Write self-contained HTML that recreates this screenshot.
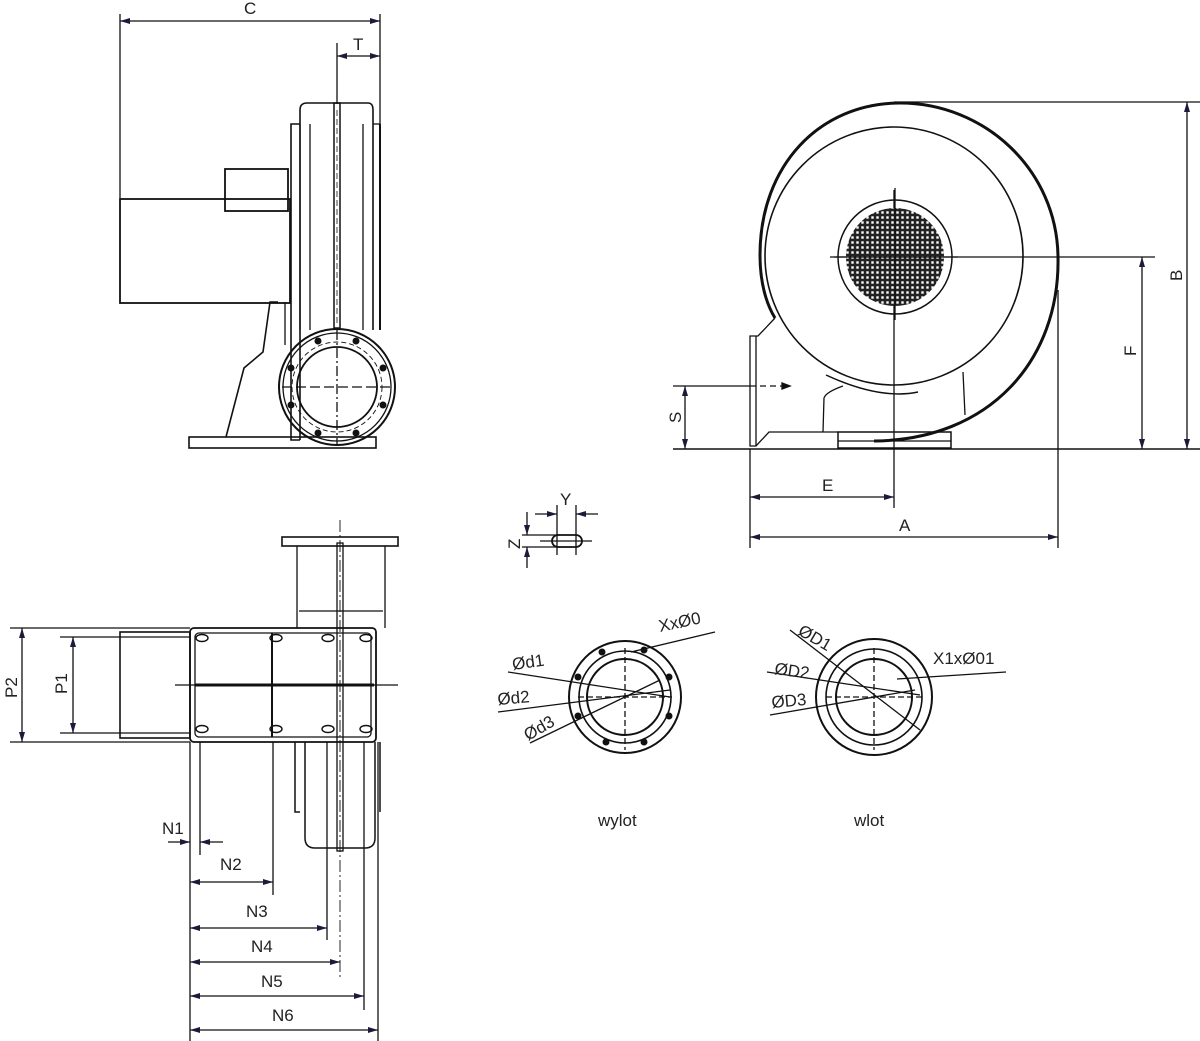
<!DOCTYPE html>
<html><head><meta charset="utf-8"><style>
html,body{margin:0;padding:0;background:#fff;}
svg{display:block}
text{font-family:"Liberation Sans",sans-serif;font-size:17px;fill:#222;}
</style></head><body>
<svg width="1200" height="1041" viewBox="0 0 1200 1041" xmlns="http://www.w3.org/2000/svg">
<defs>
<marker id="a" viewBox="0 0 10 6" refX="10" refY="3" markerWidth="10" markerHeight="6" orient="auto-start-reverse" markerUnits="userSpaceOnUse"><path d="M0,0 L10,3 L0,6 z" fill="#1a1a3a"/></marker>
<pattern id="g" width="5" height="5" patternUnits="userSpaceOnUse"><rect width="5" height="5" fill="#222"/><rect x="1.3" y="1.3" width="2.4" height="2.4" fill="#fff"/></pattern>
</defs>
<g fill="none" stroke="#111" stroke-width="1.3">
<!-- ===== TOP LEFT VIEW ===== -->
<line x1="120" y1="14" x2="120" y2="198"/>
<line x1="380" y1="14" x2="380" y2="124"/>
<line x1="120" y1="21" x2="380" y2="21" marker-start="url(#a)" marker-end="url(#a)"/>
<line x1="337" y1="43" x2="337" y2="104"/>
<line x1="337" y1="56" x2="380" y2="56" marker-start="url(#a)" marker-end="url(#a)"/>
<rect x="120" y="199" width="170" height="104" stroke-width="1.8"/>
<rect x="225" y="169" width="63" height="42" stroke-width="1.8"/>
<path d="M300,124 H291 V440 H300" stroke-width="1.6"/>
<path d="M300,440 V110 Q300,103 307,103 H368 Q373,103 373,110 V330" stroke-width="1.6"/>
<line x1="300" y1="124" x2="300" y2="330"/>
<line x1="373" y1="124" x2="380" y2="124"/><line x1="380" y1="124" x2="380" y2="330" stroke-width="2"/>
<line x1="363" y1="124" x2="363" y2="330"/>
<line x1="310" y1="124" x2="310" y2="330"/>
<rect x="334" y="103" width="6" height="225" stroke-width="1.5"/>
<line x1="337" y1="110" x2="337" y2="325" stroke-dasharray="6,3" stroke-width="0.8"/>
<path d="M278,302 H270 L263,352 L244,368 L226,437" stroke-width="1.6"/>
<path d="M285,302 V345" />
<rect x="189" y="437" width="187" height="11" stroke-width="1.6"/>
<circle cx="337" cy="387" r="58" stroke-width="2"/>
<circle cx="337" cy="387" r="54"/>
<circle cx="337" cy="387" r="40" stroke-width="1.8"/>
<circle cx="337" cy="387" r="45" stroke-dasharray="5,3" stroke-width="0.9"/>
<line x1="337" y1="330" x2="337" y2="445" stroke-dasharray="10,3,2,3"/>
<line x1="282" y1="387" x2="392" y2="387" stroke-dasharray="10,4"/>
<g fill="#111" stroke="none">
<circle cx="318" cy="341" r="3.5"/><circle cx="356" cy="341" r="3.5"/>
<circle cx="291" cy="368" r="3.5"/><circle cx="383" cy="368" r="3.5"/>
<circle cx="291" cy="405" r="3.5"/><circle cx="383" cy="405" r="3.5"/>
<circle cx="318" cy="433" r="3.5"/><circle cx="356" cy="433" r="3.5"/>
</g>
<!-- ===== TOP RIGHT VIEW ===== -->
<line x1="894" y1="102" x2="1200" y2="102"/>
<line x1="1187" y1="102" x2="1187" y2="449" marker-start="url(#a)" marker-end="url(#a)"/>
<line x1="830" y1="257" x2="1155" y2="257"/>
<line x1="1142" y1="257" x2="1142" y2="449" marker-start="url(#a)" marker-end="url(#a)"/>
<line x1="673" y1="449" x2="1200" y2="449" stroke-width="1.5"/>
<line x1="673" y1="386" x2="750" y2="386"/>
<line x1="750" y1="386" x2="790" y2="386" stroke-dasharray="6,4"/>
<line x1="685" y1="386" x2="685" y2="449" marker-start="url(#a)" marker-end="url(#a)"/>
<path d="M790,386 l-8,-3 v6 z" fill="#111"/>
<line x1="750" y1="449" x2="750" y2="548"/>
<line x1="1058" y1="290" x2="1058" y2="548"/>
<line x1="894" y1="190" x2="894" y2="508"/>
<line x1="750" y1="497" x2="894" y2="497" marker-start="url(#a)" marker-end="url(#a)"/>
<line x1="750" y1="537" x2="1058" y2="537" marker-start="url(#a)" marker-end="url(#a)"/>
<path d="M874,441 C990,440 1060,360 1058,257 C1057,170 985,103 900,103 C820,103 760,165 760,255 C760,290 770,310 775,318" stroke-width="3"/>
<circle cx="894" cy="256" r="129" stroke-width="1.6"/>
<path d="M826,375 Q880,400 918,392" stroke-width="1.5"/>
<path d="M775,318 L758,336 H750 V446 H756 L769,432 H838"/>
<line x1="756" y1="336" x2="756" y2="446"/>
<path d="M843,386 Q826,392 824,398 L823,432"/>
<path d="M963,372 L965,415"/>
<rect x="838" y="432" width="113" height="16" stroke-width="1.5"/>
<line x1="838" y1="441" x2="951" y2="441"/>
<circle cx="895" cy="257" r="57" stroke-width="1.5"/>
<circle cx="895" cy="257" r="49" fill="url(#g)" stroke="none"/>
<line x1="834" y1="257" x2="958" y2="257"/>
<line x1="895" y1="188" x2="895" y2="320"/>
<!-- slot detail -->
<line x1="535" y1="514" x2="557" y2="514" marker-end="url(#a)"/>
<line x1="598" y1="514" x2="576" y2="514" marker-end="url(#a)"/>
<line x1="557" y1="505" x2="557" y2="555"/><line x1="576" y1="505" x2="576" y2="555"/>
<line x1="527" y1="512" x2="527" y2="535" marker-end="url(#a)"/>
<line x1="527" y1="568" x2="527" y2="547" marker-end="url(#a)"/>
<line x1="522" y1="535" x2="560" y2="535"/><line x1="522" y1="547" x2="560" y2="547"/>
<line x1="540" y1="541" x2="592" y2="541"/>
<rect x="552" y="535" width="30" height="12" rx="6" stroke-width="1.8"/>
<!-- ===== BOTTOM LEFT VIEW ===== -->
<line x1="10" y1="628" x2="190" y2="628"/><line x1="10" y1="742" x2="190" y2="742"/>
<line x1="22" y1="628" x2="22" y2="742" marker-start="url(#a)" marker-end="url(#a)"/>
<line x1="60" y1="637" x2="190" y2="637"/><line x1="60" y1="733" x2="190" y2="733"/>
<line x1="73" y1="637" x2="73" y2="733" marker-start="url(#a)" marker-end="url(#a)"/>
<rect x="120" y="632" width="70" height="106" stroke-width="1.6"/>
<line x1="175" y1="685" x2="398" y2="685"/>
<rect x="190" y="628" width="186" height="114" rx="4" stroke-width="1.8"/>
<rect x="195" y="633" width="176" height="104" rx="4"/>
<line x1="195" y1="685" x2="374" y2="685" stroke-width="3"/>
<line x1="272" y1="633" x2="272" y2="737" stroke-width="2"/>
<g stroke-width="1.4">
<ellipse cx="202" cy="638" rx="6" ry="3.5"/><ellipse cx="276" cy="638" rx="6" ry="3.5"/><ellipse cx="328" cy="638" rx="6" ry="3.5"/><ellipse cx="366" cy="638" rx="6" ry="3.5"/>
<ellipse cx="202" cy="729" rx="6" ry="3.5"/><ellipse cx="276" cy="729" rx="6" ry="3.5"/><ellipse cx="328" cy="729" rx="6" ry="3.5"/><ellipse cx="366" cy="729" rx="6" ry="3.5"/>
</g>
<rect x="282" y="537" width="116" height="9" stroke-width="1.6"/>
<path d="M297,546 V628 M385,546 V628 M299,611 H383"/>
<path d="M295,742 V812 H300 M380,742 V812 M305,742 V838 Q305,848 315,848 H365 Q375,848 375,838 V742" stroke-width="1.5"/>
<rect x="337" y="543" width="6" height="308" stroke-width="1.3"/>
<line x1="340" y1="520" x2="340" y2="980" stroke-dasharray="12,3,2,3" stroke-width="0.9"/>
<line x1="190" y1="742" x2="190" y2="1041"/>
<line x1="200" y1="742" x2="200" y2="855"/>
<line x1="273" y1="742" x2="273" y2="895"/>
<line x1="327" y1="742" x2="327" y2="940"/>
<line x1="364" y1="742" x2="364" y2="1010"/>
<line x1="378" y1="742" x2="378" y2="1041"/>
<line x1="168" y1="842" x2="190" y2="842" marker-end="url(#a)"/>
<line x1="223" y1="842" x2="200" y2="842" marker-end="url(#a)"/>
<line x1="190" y1="882" x2="273" y2="882" marker-start="url(#a)" marker-end="url(#a)"/>
<line x1="190" y1="928" x2="327" y2="928" marker-start="url(#a)" marker-end="url(#a)"/>
<line x1="190" y1="962" x2="340" y2="962" marker-start="url(#a)" marker-end="url(#a)"/>
<line x1="190" y1="996" x2="364" y2="996" marker-start="url(#a)" marker-end="url(#a)"/>
<line x1="190" y1="1030" x2="378" y2="1030" marker-start="url(#a)" marker-end="url(#a)"/>
<!-- ===== wylot ===== -->
<circle cx="625" cy="697" r="56" stroke-width="2"/>
<circle cx="625" cy="697" r="46" stroke-width="1.6"/>
<circle cx="625" cy="697" r="38" stroke-width="2"/>
<line x1="625" y1="648" x2="625" y2="750" stroke-dasharray="6,3"/>
<line x1="578" y1="697" x2="672" y2="697" stroke-dasharray="6,3"/>
<line x1="508" y1="672" x2="670" y2="697"/>
<line x1="498" y1="712" x2="670" y2="690"/>
<line x1="530" y1="743" x2="660" y2="680"/>
<line x1="631" y1="652" x2="715" y2="632"/>
<g fill="#111" stroke="none">
<circle cx="602" cy="652" r="3.5"/><circle cx="644" cy="650" r="3.5"/><circle cx="578" cy="677" r="3.5"/><circle cx="669" cy="677" r="3.5"/>
<circle cx="578" cy="716" r="3.5"/><circle cx="669" cy="716" r="3.5"/><circle cx="606" cy="742" r="3.5"/><circle cx="644" cy="742" r="3.5"/>
</g>
<!-- ===== wlot ===== -->
<circle cx="874" cy="697" r="58" stroke-width="2"/>
<circle cx="874" cy="697" r="48" stroke-width="1.6"/>
<circle cx="874" cy="697" r="38" stroke-width="2"/>
<line x1="874" y1="648" x2="874" y2="750" stroke-dasharray="6,3"/>
<line x1="826" y1="697" x2="922" y2="697" stroke-dasharray="6,3"/>
<line x1="790" y1="630" x2="920" y2="730"/>
<line x1="767" y1="672" x2="920" y2="695"/>
<line x1="770" y1="715" x2="915" y2="690"/>
<line x1="897" y1="679" x2="1006" y2="672"/>
</g>
<g>
<text x="244" y="14">C</text>
<text x="353" y="50">T</text>
<text transform="translate(1182,281) rotate(-90)">B</text>
<text transform="translate(1136,356) rotate(-90)">F</text>
<text transform="translate(681,423) rotate(-90)">S</text>
<text x="822" y="491">E</text>
<text x="899" y="531">A</text>
<text x="560" y="505" font-size="15">Y</text>
<text transform="translate(520,549) rotate(-90)" font-size="15">Z</text>
<text transform="translate(17,698) rotate(-90)">P2</text>
<text transform="translate(67,694) rotate(-90)">P1</text>
<text x="162" y="834">N1</text>
<text x="220" y="870">N2</text>
<text x="246" y="917">N3</text>
<text x="251" y="952">N4</text>
<text x="261" y="987">N5</text>
<text x="272" y="1021">N6</text>
<text x="660" y="632" transform="rotate(-12 660 632)">XxØ0</text>
<text x="513" y="670" transform="rotate(-8 513 670)">Ød1</text>
<text x="498" y="705" transform="rotate(-5 498 705)">Ød2</text>
<text x="528" y="741" transform="rotate(-30 528 741)">Ød3</text>
<text x="797" y="634" transform="rotate(30 797 634)">ØD1</text>
<text x="774" y="674" transform="rotate(8 774 674)">ØD2</text>
<text x="772" y="708" transform="rotate(-5 772 708)">ØD3</text>
<text x="933" y="664">X1xØ01</text>
<text x="598" y="826" font-size="19">wylot</text>
<text x="854" y="826" font-size="19">wlot</text>
</g>
</svg>
</body></html>
